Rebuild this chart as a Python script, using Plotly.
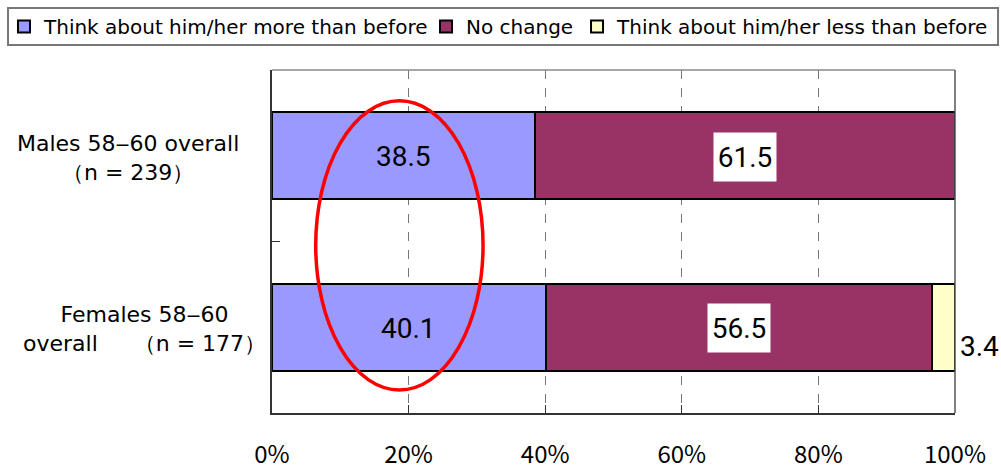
import plotly.graph_objects as go

categories = ["Males 58-60 overall", "Females 58-60 overall"]
cat_labels = ["Males 58\u201260 overall<br>（n = 239）", "Females 58\u201260<br>overall　  （n = 177）"]
series_names = ["Think about him/her more than before", "No change", "Think about him/her less than before"]
more_vals = [38.5, 40.1]
nochange_vals = [61.5, 56.5]
less_vals = [0.0, 3.4]
colors = ["#9999FF", "#993366", "#FFFFCC"]
x_ticks = [0, 20, 40, 60, 80, 100]
x_tick_labels = ["0%", "20%", "40%", "60%", "80%", "100%"]

FONT = "Noto Sans CJK JP"
WFONT = "DejaVu Sans"
NUMFONT = "Roboto"
label_x = [-0.2108, -0.1874]
legend_ids = ["legend", "legend2", "legend3"]
legend_x = [-0.3924, 0.2255, 0.4466]

fig = go.Figure()
for name, vals, col, lg in zip(series_names, [more_vals, nochange_vals, less_vals], colors, legend_ids):
    fig.add_trace(go.Bar(
        y=categories, x=vals, name=name, orientation="h", legend=lg,
        marker=dict(color=col, line=dict(color="black", width=2)),
        width=0.507, hoverinfo="x+name",
    ))

annotations = []
for i, cat in enumerate(categories):
    annotations.append(dict(x=more_vals[i] / 2, y=cat, xref="x", yref="y", text=f"{more_vals[i]:.1f}",
                            showarrow=False, yshift=-1, font=dict(family=NUMFONT, size=28, color="black")))
    annotations.append(dict(x=more_vals[i] + nochange_vals[i] / 2, y=cat, xref="x", yref="y",
                            text=f"{nochange_vals[i]:.1f}", showarrow=False, bgcolor="white",
                            width=54, height=40, valign="middle", borderpad=4, yshift=-1,
                            font=dict(family=NUMFONT, size=28, color="black")))
    if less_vals[i] > 0:
        annotations.append(dict(x=100, y=cat, xref="x", yref="y", text=f"{less_vals[i]:.1f}",
                                showarrow=False, xanchor="left", xshift=3, yshift=-19,
                                font=dict(family=NUMFONT, size=28, color="black")))
    annotations.append(dict(x=label_x[i], y=cat, xref="paper", yref="y", text=cat_labels[i],
                            showarrow=False, align="center", xanchor="center", yshift=-2,
                            font=dict(family=WFONT, size=22, color="black")))

shapes = [
    dict(type="line", xref="paper", yref="paper", x0=0, x1=1, y0=1, y1=1, line=dict(color="#888888", width=1.5)),
    dict(type="line", xref="paper", yref="paper", x0=1, x1=1, y0=0, y1=1, line=dict(color="#555555", width=1.5)),
    dict(type="circle", xref="x", yref="paper", x0=6.4, x1=30.9, y0=0.067, y1=0.910,
         line=dict(color="#FF0000", width=3.5), layer="above"),
    # legend frame
    dict(type="rect", xref="paper", yref="paper", x0=-0.3865, x1=1.0630, y0=1.0729, y1=1.1808,
         line=dict(color="#777777", width=2), fillcolor="rgba(0,0,0,0)"),
]

legend_common = dict(orientation="h", y=1.1837, xanchor="left", yanchor="top",
                     borderwidth=0, bgcolor="rgba(0,0,0,0)",
                     font=dict(family=WFONT, size=20, color="black"), itemwidth=30)

fig.update_layout(
    barmode="stack",
    width=1001, height=472,
    margin=dict(l=272, r=46, t=70, b=59, autoexpand=False),
    paper_bgcolor="white", plot_bgcolor="white",
    font=dict(family=FONT, size=19, color="black"),
    showlegend=True,
    xaxis=dict(range=[0, 100], tickvals=x_ticks, ticktext=x_tick_labels,
               showgrid=True, gridcolor="#777777", griddash="dash", gridwidth=1,
               showline=True, linecolor="#333333", linewidth=2, ticks="inside", ticklen=8,
               tickcolor="#333333", tickfont=dict(family=FONT, size=24), ticklabelstandoff=19,
               zeroline=False, fixedrange=True),
    yaxis=dict(range=[1.5, -0.5], type="category", showticklabels=False, tickson="boundaries",
               ticks="inside", ticklen=8, tickcolor="#333333", showline=True, linecolor="#333333",
               linewidth=2, showgrid=False, zeroline=False, fixedrange=True),
    annotations=annotations,
    shapes=shapes,
    bargap=0.49,
)
for lg, lx in zip(legend_ids, legend_x):
    fig.update_layout({lg: dict(x=lx, **legend_common)})

fig.write_html("out.html", config={"displayModeBar": False},
               post_script="document.body.style.margin='0';document.body.style.overflow='hidden';")
